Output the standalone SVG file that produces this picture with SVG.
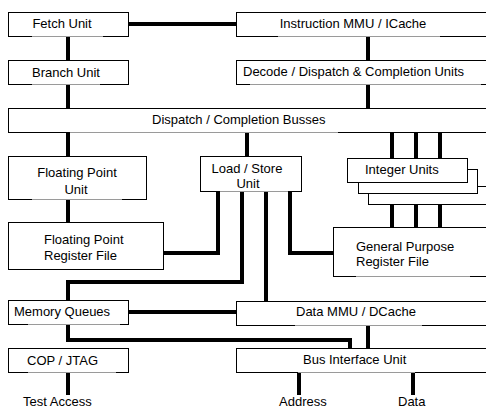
<svg xmlns="http://www.w3.org/2000/svg" width="486" height="409" viewBox="0 0 486 409">
<style>
.box{fill:#fff;stroke:#000;stroke-width:1}
.gap{stroke:#9a9a9a;stroke-width:1.2}
.t{font-family:"Liberation Sans",Arial,sans-serif;font-size:13px;fill:#000}
.m{text-anchor:middle}
.c{fill:none;stroke:#000;stroke-width:4;stroke-linecap:butt;stroke-linejoin:miter}
</style>
<rect width="486" height="409" fill="#fff"/>
<g id="connectors">
<path class="c" d="M128 24H236"/>
<path class="c" d="M68 36V61"/>
<path class="c" d="M68 85V109"/>
<path class="c" d="M368 37V61"/>
<path class="c" d="M368 85V109"/>
<path class="c" d="M68 133V157"/>
<path class="c" d="M247 133V157"/>
<path class="c" d="M392 133V159M416 133V159M440 133V159"/>
<path class="c" d="M68 200V223"/>
<path class="c" d="M218 192V253H163"/>
<path class="c" d="M242 192V282H68V301"/>
<path class="c" d="M266 192V302"/>
<path class="c" d="M290 192V253H333"/>
<path class="c" d="M392 205V228M416 205V228M440 205V228"/>
<path class="c" d="M128 312H236"/>
<path class="c" d="M68 325V340H350V349"/>
<path class="c" d="M368 326V349"/>
<path class="c" d="M68 373V395"/>
<path class="c" d="M299 373V395"/>
<path class="c" d="M413 373V395"/>
</g>
<g id="fetch">
<rect class="box" x="8.5" y="12.5" width="120" height="24"/>
<line class="gap" x1="32" y1="36.5" x2="103" y2="36.5"/>
<text class="t m" x="62" y="28">Fetch Unit</text>
</g>
<g id="immu">
<rect class="box" x="236.5" y="12.5" width="260" height="24"/>
<line class="gap" x1="278" y1="36.5" x2="440" y2="36.5"/>
<text class="t m" x="353" y="28">Instruction MMU / ICache</text>
</g>
<g id="branch">
<rect class="box" x="8.5" y="60.5" width="120" height="24"/>
<line class="gap" x1="32" y1="84.5" x2="100" y2="84.5"/>
<text class="t m" x="66" y="77">Branch Unit</text>
</g>
<g id="decode">
<rect class="box" x="236.5" y="60.5" width="260" height="24"/>
<line class="gap" x1="250" y1="84.5" x2="481" y2="84.5"/>
<text class="t" x="243" y="76">Decode / Dispatch &amp; Completion Units</text>
</g>
<g id="dispatch">
<rect class="box" x="8.5" y="108.5" width="490" height="24"/>
<line class="gap" x1="70" y1="132.5" x2="338" y2="132.5"/>
<text class="t" x="152" y="124">Dispatch / Completion Busses</text>
</g>
<g id="fpu">
<rect class="box" x="8.5" y="156.5" width="138" height="43"/>
<line class="gap" x1="32" y1="199.5" x2="122" y2="199.5"/>
<text class="t m" x="77" y="177">Floating Point</text>
<text class="t m" x="76" y="194">Unit</text>
</g>
<g id="fpr">
<rect class="box" x="8.5" y="222.5" width="155" height="47"/>
<text class="t" x="44" y="244">Floating Point</text>
<text class="t" x="44" y="260">Register File</text>
</g>
<g id="lsu">
<rect class="box" x="200.5" y="156.5" width="101" height="35"/>
<line class="gap" x1="220" y1="191.5" x2="288" y2="191.5"/>
<text class="t m" x="247" y="173">Load / Store</text>
<text class="t m" x="248" y="188">Unit</text>
</g>
<g id="integer">
<rect class="box" x="368.5" y="186.5" width="130" height="18"/>
<rect class="box" x="358.5" y="169.5" width="119" height="24"/>
<rect class="box" x="347.5" y="158.5" width="120" height="24"/>
<text class="t" x="365" y="174">Integer Units</text>
</g>
<g id="gpr">
<rect class="box" x="333.5" y="227.5" width="165" height="49"/>
<line class="gap" x1="356" y1="276.5" x2="470" y2="276.5"/>
<text class="t" x="356" y="251">General Purpose</text>
<text class="t" x="356" y="266">Register File</text>
</g>
<g id="memq">
<rect class="box" x="8.5" y="300.5" width="120" height="24"/>
<line class="gap" x1="28" y1="324.5" x2="120" y2="324.5"/>
<text class="t" x="14" y="316">Memory Queues</text>
</g>
<g id="dmmu">
<rect class="box" x="236.5" y="301.5" width="260" height="24"/>
<line class="gap" x1="295" y1="325.5" x2="422" y2="325.5"/>
<text class="t" x="296" y="316">Data MMU / DCache</text>
</g>
<g id="cop">
<rect class="box" x="8.5" y="348.5" width="120" height="24"/>
<line class="gap" x1="28" y1="372.5" x2="116" y2="372.5"/>
<text class="t" x="27" y="365">COP / JTAG</text>
</g>
<g id="biu">
<rect class="box" x="236.5" y="348.5" width="260" height="24"/>
<line class="gap" x1="298" y1="372.5" x2="415" y2="372.5"/>
<text class="t" x="303" y="364">Bus Interface Unit</text>
</g>
<g id="labels">
<text class="t" x="23" y="406">Test Access</text>
<text class="t" x="279" y="406">Address</text>
<text class="t" x="398" y="406">Data</text>
</g>
</svg>
